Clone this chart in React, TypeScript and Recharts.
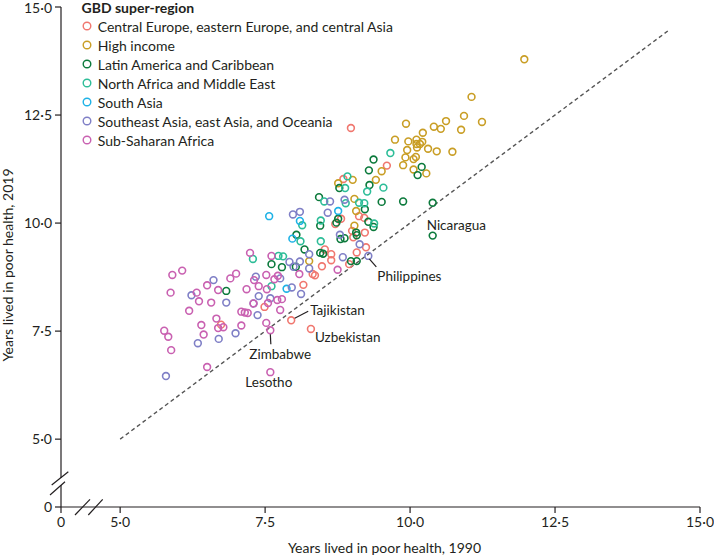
import { ScatterChart, Scatter, XAxis, YAxis, ReferenceLine, Legend } from "recharts";

type Pt = [number, number, string?];

// years lived in poor health: [1990, 2019, optional label]
const centralEurope: Pt[] = [
  [8.98, 12.2], [8.85, 11.02], [9.6, 11.33], [8.81, 10.1], [8.71, 9.98], [9.12, 10.16],
  [9.21, 10.12], [9.0, 9.82], [9.02, 9.67], [9.22, 9.78], [9.24, 9.44], [8.53, 9.39],
  [8.64, 9.28], [8.64, 9.14], [9.08, 9.32], [8.95, 9.05], [8.48, 9.0], [8.32, 8.82],
  [8.36, 8.79], [8.16, 8.57], [7.49, 8.06], [6.74, 7.65],
  [7.95, 7.75, "Tajikistan"], [8.29, 7.55, "Uzbekistan"],
];

const highIncome: Pt[] = [
  [11.97, 13.79], [11.06, 12.92], [10.62, 12.36], [10.93, 12.48], [11.24, 12.34], [10.88, 12.16],
  [9.93, 12.3], [10.41, 12.23], [10.53, 12.18], [10.22, 12.09], [9.74, 11.93], [9.97, 11.89],
  [10.11, 11.93], [10.11, 11.83], [10.17, 11.83], [10.21, 11.88], [9.95, 11.69], [10.12, 11.75],
  [10.31, 11.72], [10.46, 11.66], [10.73, 11.65], [9.92, 11.52], [10.06, 11.48], [10.1, 11.53],
  [9.88, 11.34], [10.06, 11.24], [10.28, 11.15], [9.51, 11.2], [9.41, 11.0], [9.01, 11.0],
  [8.76, 10.92], [9.04, 10.56], [9.07, 10.28], [9.04, 9.94], [8.26, 9.12],
];

const latinAmerica: Pt[] = [
  [10.39, 9.71, "Nicaragua"], [10.39, 10.47], [9.88, 10.5], [9.51, 10.49], [10.2, 11.3],
  [10.13, 11.11], [9.37, 11.47], [9.29, 11.22], [9.3, 10.88], [8.78, 10.81], [9.22, 10.32],
  [8.43, 10.6], [9.28, 10.03], [9.37, 9.91], [9.07, 9.78], [9.08, 9.72], [8.8, 9.63],
  [8.87, 9.65], [8.76, 10.1], [8.73, 10.01], [8.45, 9.94], [8.04, 9.73], [8.18, 9.39],
  [8.45, 9.31], [8.5, 9.29], [8.98, 9.12], [9.08, 9.12], [7.61, 9.05], [7.79, 8.98],
  [8.03, 8.99], [6.83, 8.43],
];

const northAfrica: Pt[] = [
  [9.66, 11.62], [9.54, 10.82], [9.26, 10.73], [8.92, 11.08], [8.88, 10.81], [8.52, 10.5],
  [8.89, 10.46], [9.12, 10.47], [9.21, 10.46], [9.38, 9.99], [8.46, 10.06], [8.14, 9.95],
  [8.11, 9.58], [8.46, 9.58], [7.73, 9.24], [7.81, 9.23], [7.29, 9.17], [7.61, 8.54],
];

const southAsia: Pt[] = [
  [7.57, 10.16], [8.1, 10.05], [8.76, 10.28], [7.97, 9.64], [7.87, 8.48],
];

const southeastAsia: Pt[] = [
  [7.98, 10.2], [8.1, 10.26], [8.58, 10.24], [8.62, 10.5], [8.87, 10.54], [8.79, 9.73],
  [9.13, 9.51], [9.28, 9.24, "Philippines"], [8.84, 9.21], [8.26, 8.95], [7.92, 9.1],
  [7.99, 8.99], [8.1, 9.11], [8.26, 9.28], [7.96, 8.51], [8.12, 8.36], [7.34, 8.76],
  [7.76, 8.72], [7.39, 8.31], [7.59, 8.26], [7.37, 7.87], [6.61, 8.68], [6.23, 8.33],
  [6.83, 8.16], [6.7, 7.32], [6.34, 7.22], [6.99, 7.45], [5.79, 6.46], [7.3, 8.14],
];

const subSaharan: Pt[] = [
  [5.9, 8.8], [6.07, 8.9], [5.87, 8.39], [6.32, 8.39], [6.5, 8.56], [6.69, 8.45],
  [6.9, 8.72], [7.0, 8.83], [6.36, 8.19], [6.57, 8.16], [6.19, 7.97], [6.66, 7.79],
  [6.4, 7.64], [6.69, 7.57], [6.78, 7.59], [6.44, 7.42], [5.76, 7.51], [5.83, 7.37],
  [5.88, 7.06], [6.5, 6.67], [7.09, 7.95], [7.15, 7.93], [7.2, 7.92], [7.09, 7.63],
  [7.18, 8.47], [7.24, 9.31], [7.61, 9.24], [7.66, 8.7], [7.72, 8.78], [7.52, 8.8],
  [7.31, 8.68], [8.09, 8.82], [7.39, 8.54], [7.53, 8.47], [7.71, 8.22], [7.79, 8.24],
  [7.3, 8.14], [7.55, 8.15], [7.76, 7.99], [7.52, 7.69],
  [7.59, 7.52, "Zimbabwe"], [7.59, 6.55, "Lesotho"], [8.75, 8.92],
];

// first tick stands in for 0 on the broken axes
const xTicks = [3.98, 5, 7.5, 10, 12.5, 15];
const yTicks = [3.43, 5, 7.5, 10, 12.5, 15];

const series = [
  { name: "Central Europe, eastern Europe, and central Asia", color: "#f0776f", points: centralEurope },
  { name: "High income", color: "#c99e25", points: highIncome },
  { name: "Latin America and Caribbean", color: "#0c7a3c", points: latinAmerica },
  { name: "North Africa and Middle East", color: "#2dbd98", points: northAfrica },
  { name: "South Asia", color: "#1eb2e6", points: southAsia },
  { name: "Southeast Asia, east Asia, and Oceania", color: "#7f7fc6", points: southeastAsia },
  { name: "Sub-Saharan Africa", color: "#c961b1", points: subSaharan },
];

const FONT = 'Lato, "Noto Sans", sans-serif';
const INK = "#231f20";

// label placement relative to its point (px)
const labelPos: Record<string, { dx: number; dy: number; leader?: number[] }> = {
  Nicaragua: { dx: -6, dy: -6 },
  Philippines: { dx: 9, dy: 25, leader: [1, 3, 8, 11] },
  Tajikistan: { dx: 19, dy: -5, leader: [3.5, -2, 17, -9] },
  Uzbekistan: { dx: 4, dy: 13 },
  Zimbabwe: { dx: -21, dy: 29, leader: [0, 4, 0.5, 14] },
  Lesotho: { dx: -25, dy: 15 },
};

const fmt = (v: number) => (v < 4.5 ? "0" : v.toFixed(1).replace(".", "\u00b7"));

const toRows = (pts: Pt[]) => pts.map(([x, y, label]) => ({ x, y, label }));

const annotated = series.flatMap((s) => toRows(s.points).filter((r) => r.label));

const ring = (color: string) => (props: any) =>
  props.cx == null ? <g /> : (
    <circle cx={props.cx} cy={props.cy} r={3.4} fill="none" stroke={color} strokeWidth={1.6} />
  );

const Annotation = (props: any) => {
  const { cx, cy, payload } = props;
  const p = labelPos[payload.label];
  if (cx == null || !p) return <g />;
  return (
    <g>
      {p.leader && (
        <line
          x1={cx + p.leader[0]}
          y1={cy + p.leader[1]}
          x2={cx + p.leader[2]}
          y2={cy + p.leader[3]}
          stroke={INK}
          strokeWidth={1.2}
        />
      )}
      <text x={cx + p.dx} y={cy + p.dy} fontSize={13.5} fontFamily={FONT} fill={INK}>
        {payload.label}
      </text>
    </g>
  );
};

const LegendBox = () => (
  <div style={{ fontFamily: FONT, fontSize: 14, lineHeight: "19px", color: INK }}>
    <div style={{ fontWeight: 700, paddingLeft: 3.5 }}>GBD super-region</div>
    {series.map((s) => (
      <div key={s.name} style={{ display: "flex", alignItems: "center", whiteSpace: "nowrap" }}>
        <svg width={12} height={12} style={{ marginLeft: 2.7, flexShrink: 0 }}>
          <circle cx={6} cy={6} r={3.8} fill="none" stroke={s.color} strokeWidth={1.4} />
        </svg>
        <span style={{ marginLeft: 5 }}>{s.name}</span>
      </div>
    ))}
  </div>
);

export default function App() {
  return (
    <div style={{ position: "absolute", left: 0, top: 0, width: 714, height: 555, background: "#fff" }}>
      <ScatterChart width={714} height={555} margin={{ top: 7, right: 14, bottom: 18, left: 0 }}>
        <XAxis
          type="number"
          dataKey="x"
          domain={[3.98, 15]}
          ticks={xTicks}
          tickFormatter={fmt}
          allowDataOverflow
          height={30}
          tickSize={6}
          tickMargin={4}
          stroke={INK}
          strokeWidth={1.2}
          tick={{ fill: INK, fontSize: 14, fontFamily: FONT }}
          label={(p: any) => (
            <text
              x={p.viewBox.x + p.viewBox.width / 2 + 4}
              y={p.viewBox.y + 46}
              textAnchor="middle"
              fontSize={14}
              fontFamily={FONT}
              fill={INK}
            >
              Years lived in poor health, 1990
            </text>
          )}
        />
        <YAxis
          type="number"
          dataKey="y"
          domain={[3.43, 15]}
          ticks={yTicks}
          tickFormatter={fmt}
          allowDataOverflow
          width={61}
          tickSize={6}
          tickMargin={3}
          stroke={INK}
          strokeWidth={1.2}
          tick={{ fill: INK, fontSize: 14, fontFamily: FONT }}
          label={(p: any) => {
            const x = p.viewBox.x + 13;
            const y = p.viewBox.y + p.viewBox.height / 2 + 8;
            return (
              <text
                x={x}
                y={y}
                transform={`rotate(-90 ${x} ${y})`}
                textAnchor="middle"
                fontSize={14}
                fontFamily={FONT}
                fill={INK}
              >
                Years lived in poor health, 2019
              </text>
            );
          }}
        />
        <ReferenceLine
          segment={[{ x: 5, y: 5 }, { x: 14.45, y: 14.45 }]}
          stroke="#555"
          strokeWidth={1.4}
          strokeDasharray="4 3"
        />
        {series.map((s) => (
          <Scatter
            key={s.name}
            name={s.name}
            data={toRows(s.points)}
            fill={s.color}
            shape={ring(s.color)}
            isAnimationActive={false}
          />
        ))}
        <Scatter
          name="labels"
          data={annotated}
          legendType="none"
          shape={Annotation}
          isAnimationActive={false}
        />
        <Legend
          layout="vertical"
          align="center"
          verticalAlign="middle"
          wrapperStyle={{ top: -2.5, left: 78, width: 400 }}
          content={() => <LegendBox />}
        />
      </ScatterChart>
      {/* axis break marks */}
      <svg width={714} height={555} style={{ position: "absolute", left: 0, top: 0, pointerEvents: "none" }}>
        <rect x={58} y={478} width={6} height={7} fill="#fff" />
        <line x1={51.7} y1={485} x2={68.3} y2={471.7} stroke={INK} strokeWidth={1.2} />
        <line x1={50} y1={495} x2={65} y2={481.7} stroke={INK} strokeWidth={1.2} />
        <line x1={75} y1={515} x2={90} y2={499.3} stroke={INK} strokeWidth={1.2} />
        <line x1={88.3} y1={515} x2={102.7} y2={499.3} stroke={INK} strokeWidth={1.2} />
      </svg>
    </div>
  );
}
